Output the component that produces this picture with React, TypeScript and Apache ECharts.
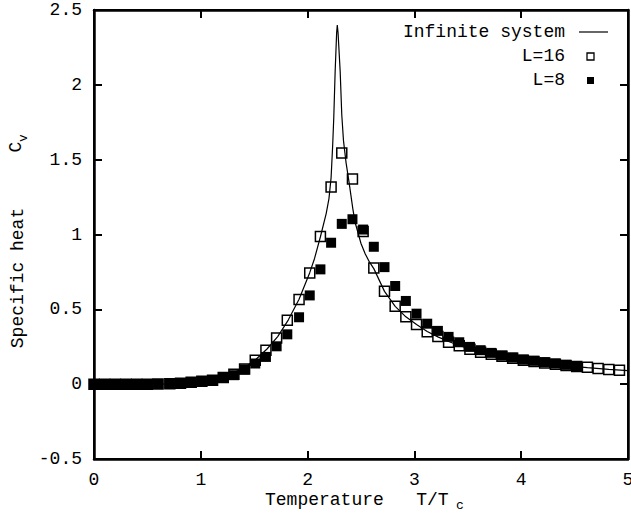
import React, { useEffect, useRef } from "react";
import * as echarts from "echarts";

// Temperatures of the finite-size data points
const TEMPS = [
  0.0, 0.1, 0.2, 0.3, 0.4, 0.5, 0.6, 0.71, 0.81, 0.91,
  1.01, 1.11, 1.21, 1.31, 1.41, 1.51, 1.61, 1.71, 1.81, 1.92,
  2.02, 2.12, 2.22, 2.32, 2.42, 2.52, 2.62, 2.72, 2.82, 2.92,
  3.02, 3.12, 3.22, 3.32, 3.42, 3.52, 3.62, 3.72, 3.82, 3.92,
  4.02, 4.12, 4.22, 4.32, 4.42, 4.52, 4.62, 4.72, 4.82, 4.92,
];

// L=16 (open squares)
const CV_L16 = [
  0, 0, 0, 0, 0, 0, 0.001, 0.003, 0.006, 0.012,
  0.02, 0.027, 0.045, 0.067, 0.102, 0.16, 0.227, 0.309, 0.427, 0.565,
  0.742, 0.987, 1.318, 1.545, 1.371, 1.02, 0.776, 0.62, 0.52, 0.451,
  0.398, 0.35, 0.318, 0.28, 0.256, 0.233, 0.213, 0.2, 0.186, 0.173,
  0.16, 0.151, 0.142, 0.133, 0.125, 0.118, 0.113, 0.104, 0.098, 0.093,
];

// L=8 (filled squares)
const CV_L8 = [
  0, 0, 0, 0, 0, 0, 0.001, 0.003, 0.006, 0.01,
  0.02, 0.025, 0.044, 0.06, 0.098, 0.138, 0.182, 0.253, 0.333, 0.447,
  0.593, 0.767, 0.945, 1.071, 1.102, 1.033, 0.918, 0.782, 0.656, 0.556,
  0.471, 0.404, 0.356, 0.316, 0.28, 0.249, 0.227, 0.209, 0.191, 0.178,
  0.164, 0.156, 0.147, 0.138, 0.129, 0.12,
];

// Infinite system curve
const INF_T = [
  0.0, 0.5, 0.7, 0.8, 0.9, 1.0, 1.1, 1.2, 1.3, 1.42,
  1.52, 1.62, 1.72, 1.82, 1.92, 2.02, 2.065, 2.12, 2.174, 2.2,
  2.22, 2.235, 2.245, 2.258, 2.272, 2.278, 2.285, 2.305, 2.32, 2.336,
  2.36, 2.386, 2.424, 2.445, 2.5, 2.54, 2.58, 2.62, 2.72, 2.82, 2.92,
  3.02, 3.12, 3.22, 3.32, 3.42, 3.52, 3.62, 3.72, 3.82, 3.92,
  4.02, 4.22, 4.42, 4.62, 4.82, 5.0,
];
const INF_CV = [
  0, 0, 0.002, 0.005, 0.01, 0.018, 0.03, 0.047, 0.075, 0.115,
  0.168, 0.235, 0.318, 0.43, 0.568, 0.745, 0.84, 0.985, 1.14, 1.24,
  1.38, 1.6, 1.78, 2.09, 2.35, 2.4, 2.35, 2.09, 1.8, 1.627,
  1.48, 1.36, 1.17, 1.08, 0.94, 0.87, 0.815, 0.772, 0.62, 0.52, 0.45,
  0.398, 0.352, 0.316, 0.285, 0.258, 0.235, 0.215, 0.198, 0.183, 0.17,
  0.158, 0.138, 0.122, 0.11, 0.099, 0.091,
];

const X_MIN = 0, X_MAX = 5, X_STEP = 1;
const Y_MIN = -0.5, Y_MAX = 2.5, Y_STEP = 0.5;

const FONT = "'Courier New', 'Liberation Mono', monospace";

function makeAxis(min: number, max: number, interval: number, position: string, labels: boolean) {
  return {
    type: "value",
    min, max, interval, position,
    axisLine: { show: true, onZero: false, lineStyle: { color: "#000", width: 2.5 } },
    axisTick: { show: true, inside: true, length: 8, lineStyle: { color: "#000", width: 2 } },
    splitLine: { show: false },
    axisLabel: labels
      ? { show: true, color: "#000", fontFamily: FONT, fontSize: 18, margin: 12 }
      : { show: false },
  };
}

export default function App() {
  const ref = useRef<HTMLDivElement>(null);
  useEffect(() => {
    if (!ref.current) return;
    const chart = echarts.init(ref.current, null, { renderer: "svg" });
    chart.setOption({
      animation: false,
      backgroundColor: "#fff",
      grid: { left: 94, right: 3, top: 10, bottom: 55, outerBoundsMode: "none",
        show: true, borderColor: "#000", borderWidth: 2 },
      xAxis: [
        makeAxis(X_MIN, X_MAX, X_STEP, "bottom", true),
        makeAxis(X_MIN, X_MAX, X_STEP, "top", false),
      ],
      yAxis: [
        makeAxis(Y_MIN, Y_MAX, Y_STEP, "left", true),
        makeAxis(Y_MIN, Y_MAX, Y_STEP, "right", false),
      ],
      series: [
        {
          name: "L=16", type: "scatter", symbol: "rect", symbolSize: 10, z: 2,
          xAxisIndex: 0, yAxisIndex: 0,
          data: TEMPS.map((t, i) => [t, CV_L16[i]]),
          itemStyle: { color: "#fff", borderColor: "#000", borderWidth: 1.5, opacity: 1 },
        },
        {
          name: "Infinite system", type: "line", showSymbol: false, z: 3,
          xAxisIndex: 1, yAxisIndex: 1,
          data: INF_T.map((t, i) => [t, INF_CV[i]]),
          lineStyle: { color: "#000", width: 1.2 },
        },
        {
          name: "L=8", type: "scatter", symbol: "rect", symbolSize: 10, z: 4,
          xAxisIndex: 0, yAxisIndex: 0,
          data: CV_L8.map((c, i) => [TEMPS[i], c]),
          itemStyle: { color: "#000", opacity: 1 },
        },
      ],
      graphic: [
        // legend
        { type: "text", x: 565, y: 32, style: { text: "Infinite system", font: `18px ${FONT}`, fill: "#000", align: "right", verticalAlign: "middle" } },
        { type: "line", shape: { x1: 579, y1: 32, x2: 608, y2: 32 }, style: { stroke: "#000", lineWidth: 1.2 } },
        { type: "text", x: 565, y: 56, style: { text: "L=16", font: `18px ${FONT}`, fill: "#000", align: "right", verticalAlign: "middle" } },
        { type: "rect", shape: { x: 587, y: 53, width: 7, height: 7 }, style: { fill: "#fff", stroke: "#000", lineWidth: 1.3 } },
        { type: "text", x: 565, y: 80, style: { text: "L=8", font: `18px ${FONT}`, fill: "#000", align: "right", verticalAlign: "middle" } },
        { type: "rect", shape: { x: 587, y: 77, width: 7, height: 7 }, style: { fill: "#000" } },
        // x axis title
        { type: "text", x: 265, y: 500, style: { text: "Temperature   T/T", font: `18px ${FONT}`, fill: "#000", align: "left", verticalAlign: "middle" } },
        { type: "text", x: 460, y: 505, style: { text: "c", font: `13px ${FONT}`, fill: "#000", align: "center", verticalAlign: "middle" } },
        // y axis title
        { type: "text", x: 18, y: 278, rotation: Math.PI / 2, style: { text: "Specific heat", font: `18px ${FONT}`, fill: "#000", align: "center", verticalAlign: "middle" } },
        { type: "text", x: 16, y: 147, rotation: Math.PI / 2, style: { text: "C", font: `18px ${FONT}`, fill: "#000", align: "center", verticalAlign: "middle" } },
        { type: "text", x: 23, y: 138, rotation: Math.PI / 2, style: { text: "v", font: `13px ${FONT}`, fill: "#000", align: "center", verticalAlign: "middle" } },
      ],
    });
    return () => chart.dispose();
  }, []);
  return <div ref={ref} style={{ position: "fixed", left: 0, top: 0, width: 631, height: 514 }} />;
}
